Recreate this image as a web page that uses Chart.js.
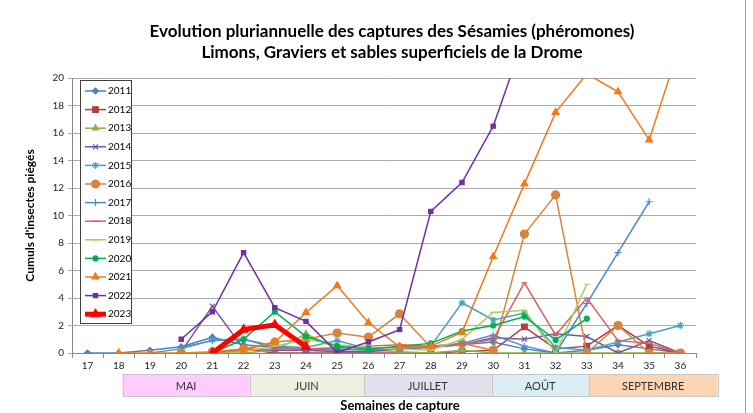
<!DOCTYPE html>
<html>
<head>
<meta charset="utf-8">
<script src="https://cdn.jsdelivr.net/npm/chart.js@4.4.1/dist/chart.umd.min.js"></script>
<style>
  html, body { margin: 0; padding: 0; background: #fff; }
</style>
</head>
<body>
<canvas id="captures" width="753" height="413"></canvas>
<script>
// semaines 17 -> 36
const semaines = ["17","18","19","20","21","22","23","24","25","26","27","28","29","30","31","32","33","34","35","36"];
const yTicks = [0, 2, 4, 6, 8, 10, 12, 14, 16, 18, 20];

const c2011 = [0, 0, 0.2, 0.45, 1.15, 0.6, 0.4, 0.3, 0.2, 0.3, 0.4, 0.5, 0.6, 0.8, 0.3, 0, 0.2, 0.6, 0.3, 0];
const c2012 = [null, null, null, 0, 0, 0.3, 0, 0, 0, 0, 0, 0, 0.1, 0.2, 1.9, 0.3, 0.5, 2.0, 0.5, 0];
const c2013 = [null, null, null, 0, 0, 0, 0.2, 1.4, 0.3, 0.2, 0.1, 0, 0.2, 0, 0, 0, 0, 0, 0, 0];
const c2014 = [null, null, null, 0.1, 3.4, 0.3, 0.2, 0.2, 0.1, 0.1, 0.3, 0.4, 0.6, 1.1, 1.0, 1.4, 1.2, 0, 0.9, 0];
const c2015 = [null, null, 0, 0.3, 0.95, 1.0, 0.5, 0.4, 0.9, 0.3, 0.3, 0.5, 3.65, 2.4, 2.9, 0.4, 0.2, 0.8, 1.4, 2.0];
const c2016 = [null, null, null, 0, 0.1, 0.3, 0.8, 1.0, 1.45, 1.15, 2.85, 0.4, 0.7, 0.2, 8.65, 11.5, 0, 2.0, 0, 0];
const c2017 = [null, null, null, 0.4, 0.9, 1.0, 0.4, 0.3, 0.3, 0.2, 0.4, 0.5, 0.7, 1.3, 0.5, 0, 3.6, 7.3, 11.0, null];
const c2018 = [null, null, null, 0, 0, 0.2, 0.3, 0.3, 0.4, 0.5, 0.6, 0.5, 0.6, 1.0, 5.1, 1.3, 4.0, 0.9, 0.7, 0];
const c2019 = [null, null, null, 0, 0, 0.1, 0.5, 1.0, 0.6, 0.4, 0.3, 0.2, 1.0, 2.95, 3.1, 0, 5.0, null, null, null];
const c2020 = [null, null, null, null, 0, 1.0, 3.0, 1.2, 0.5, 0.3, 0.5, 0.7, 1.6, 2.0, 2.65, 0.95, 2.5, null, null, null];
const c2021 = [null, 0, 0, 0, 0, 0.2, 0.8, 2.95, 4.9, 2.2, 0.45, 0.5, 1.5, 7.0, 12.3, 17.5, 20.3, 19.0, 15.5, 22.5];
const c2022 = [null, null, null, 1.0, 3.0, 7.3, 3.3, 2.3, 0.05, 0.8, 1.7, 10.3, 12.4, 16.5, 23, null, null, null, null, null];
const c2023 = [null, null, null, null, 0, 1.7, 2.05, 0.45, null, null, null, null, null, null, null, null, null, null, null, null];

const mois = ["MAI", "JUIN", "JUILLET", "AOÛT", "SEPTEMBRE"];
const titre = ["Evolution pluriannuelle des captures des Sésamies (phéromones)", "Limons, Graviers et sables superficiels de la Drome"];
const titreX = "Semaines de capture";

const series = [
  { label: "2011", data: c2011, color: "#4F81BD", style: "rectRot", r: 3, w: 1.5 },
  { label: "2012", data: c2012, color: "#A9433F", style: "rect", r: 4, w: 1.5 },
  { label: "2013", data: c2013, color: "#8DB048", style: "triangle", r: 3.5, w: 1.5 },
  { label: "2014", data: c2014, color: "#7A559F", style: "crossRot", r: 3.5, w: 1.5 },
  { label: "2015", data: c2015, color: "#46A3BD", style: "star", r: 3.5, w: 1.5 },
  { label: "2016", data: c2016, color: "#D9843E", style: "circle", r: 4, w: 1.5 },
  { label: "2017", data: c2017, color: "#4F8AD0", style: "cross", r: 3.5, w: 1.5 },
  { label: "2018", data: c2018, color: "#D9625F", style: "line", r: 3, w: 1.5 },
  { label: "2019", data: c2019, color: "#A8CE5C", style: "line", r: 3, w: 1.5 },
  { label: "2020", data: c2020, color: "#00B050", style: "circle", r: 2.5, w: 1.5 },
  { label: "2021", data: c2021, color: "#F07A1A", style: "triangle", r: 4, w: 1.5 },
  { label: "2022", data: c2022, color: "#7030A0", style: "rect", r: 3, w: 1.5 },
  { label: "2023", data: c2023, color: "#FF0000", style: "triangle", r: 5, w: 5 }
];

const police = "Lato, 'Open Sans', sans-serif";

// legende dans la zone de tracé, comme dans Excel
const legendeInterne = {
  id: "legendeInterne",
  afterDraw(chart) {
    const ctx = chart.ctx;
    const x0 = chart.chartArea.left + 8, y0 = chart.chartArea.top + 2;
    const w = 51, h = 243, pas = 18.6;
    ctx.save();
    ctx.fillStyle = "#fff";
    ctx.fillRect(x0, y0, w, h);
    ctx.strokeStyle = "#404040";
    ctx.lineWidth = 1;
    ctx.strokeRect(x0 + 0.5, y0 + 0.5, w, h);
    chart.data.datasets.forEach((ds, i) => {
      const y = y0 + 11 + i * pas;
      ctx.strokeStyle = ds.borderColor;
      ctx.lineWidth = ds.borderWidth;
      ctx.beginPath();
      ctx.moveTo(x0 + 5, y);
      ctx.lineTo(x0 + 26, y);
      ctx.stroke();
      ctx.fillStyle = ds.pointBackgroundColor;
      ctx.strokeStyle = ds.borderColor;
      ctx.lineWidth = 1.2;
      Chart.helpers.drawPoint(ctx, { pointStyle: ds.pointStyle, radius: ds.pointRadius, rotation: 0, borderWidth: 1.2 }, x0 + 15.5, y);
      ctx.fillStyle = "#000";
      ctx.font = "10px " + police;
      ctx.textAlign = "left";
      ctx.textBaseline = "middle";
      ctx.fillText(ds.label, x0 + 28, y);
    });
    ctx.restore();
  }
};

// titre, bandeau des mois et titre de l'axe x
const bornesMois = [18.12, 22.19, 25.85, 29.95, 33.06, 37.19];
const couleursMois = ["#FFCCFF", "#EBF1DE", "#E4DFEC", "#DAEEF3", "#FCD5B4"];
const habillage = {
  id: "habillage",
  afterDraw(chart) {
    const ctx = chart.ctx, x = chart.scales.x;
    ctx.save();
    ctx.fillStyle = "#000";
    ctx.textAlign = "center";
    ctx.textBaseline = "middle";
    ctx.font = "bold 17px " + police;
    ctx.fillText(titre[0], 392, 32);
    ctx.fillText(titre[1], 392, 53);

    const haut = chart.chartArea.bottom + 21, hauteur = 22;
    mois.forEach((m, i) => {
      const g = x.getPixelForValue(bornesMois[i] - 17);
      const d = x.getPixelForValue(bornesMois[i + 1] - 17);
      ctx.fillStyle = couleursMois[i];
      ctx.fillRect(g, haut, d - g, hauteur);
      ctx.strokeStyle = "#C6C6C6";
      ctx.lineWidth = 1;
      ctx.strokeRect(Math.round(g) + 0.5, haut + 0.5, Math.round(d - g), hauteur);
      ctx.fillStyle = "#333";
      ctx.font = "11px " + police;
      ctx.fillText(m, (g + d) / 2, haut + hauteur / 2 + 1);
    });

    ctx.fillStyle = "#000";
    ctx.font = "bold 13px " + police;
    ctx.fillText(titreX, 400, 406);

    ctx.strokeStyle = "#A0A0A0";
    ctx.beginPath();
    ctx.moveTo(745.5, 0);
    ctx.lineTo(745.5, 413);
    ctx.stroke();
    ctx.restore();
  }
};

new Chart(document.getElementById("captures"), {
  type: "line",
  data: {
    labels: semaines,
    datasets: series.map((s, i) => ({
      label: s.label,
      data: s.data,
      borderColor: s.color,
      backgroundColor: s.color,
      pointBackgroundColor: s.color,
      pointBorderColor: s.color,
      pointStyle: s.style,
      pointRadius: s.r,
      pointBorderWidth: 1.2,
      borderWidth: s.w,
      tension: 0,
      spanGaps: false,
      order: series.length - i
    }))
  },
  options: {
    responsive: false,
    animation: false,
    events: [],
    layout: { padding: { left: 16, right: 57, top: 78, bottom: 0 } },
    plugins: {
      legend: { display: false },
      tooltip: { enabled: false },
      title: { display: false }
    },
    scales: {
      x: {
        offset: true,
        grid: { display: true, drawOnChartArea: false, drawTicks: true, tickLength: 5, offset: true, color: "#888" },
        border: { display: true, color: "#888" },
        ticks: { color: "#222", font: { family: police, size: 10 }, padding: 2, maxRotation: 0, autoSkip: false },
        afterFit(scale) { scale.height = 60; }
      },
      y: {
        min: 0,
        max: 20,
        afterBuildTicks(scale) { scale.ticks = yTicks.map(v => ({ value: v })); },
        grid: { color: "#ABABAB", lineWidth: 1, tickLength: 4 },
        border: { display: true, color: "#888" },
        ticks: { color: "#222", font: { family: police, size: 10 }, padding: 4 },
        title: {
          display: true,
          text: "Cumuls d'insectes piégés",
          color: "#000",
          font: { family: police, size: 12, weight: "bold", lineHeight: 1.2 },
          padding: { top: 7, bottom: 0 }
        },
        afterFit(scale) { scale.width = 56; }
      }
    }
  },
  plugins: [legendeInterne, habillage]
});
</script>
</body>
</html>
